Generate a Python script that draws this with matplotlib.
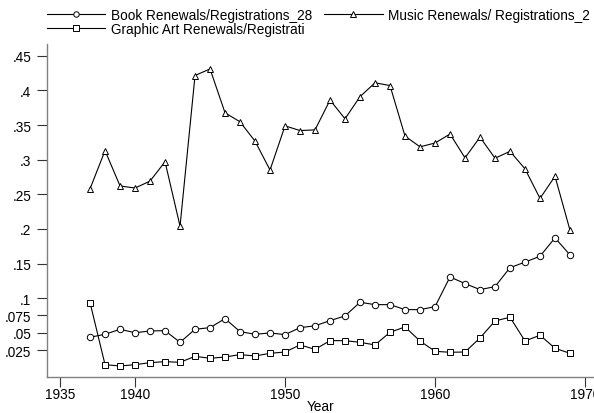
import numpy as np
import matplotlib.pyplot as plt
from matplotlib.ticker import FuncFormatter

plt.rcParams['font.family'] = ['Liberation Sans', 'DejaVu Sans']

years = list(range(1937, 1970))

book = [0.0435, 0.0478, 0.055, 0.050, 0.0526, 0.053, 0.0362, 0.055, 0.0574, 0.0704,
        0.0516, 0.0478, 0.0497, 0.0473, 0.0574, 0.060, 0.0675, 0.0743, 0.094, 0.0906,
        0.0906, 0.0834, 0.0834, 0.0877, 0.1306, 0.121, 0.1123, 0.1166, 0.144, 0.152,
        0.1605, 0.187, 0.1624]

music = [0.258, 0.313, 0.262, 0.259, 0.269, 0.297, 0.204, 0.4215, 0.431, 0.3676,
         0.3546, 0.3267, 0.285, 0.3488, 0.342, 0.343, 0.386, 0.359, 0.391, 0.411,
         0.407, 0.334, 0.3185, 0.324, 0.337, 0.3026, 0.3325, 0.302, 0.312, 0.2867,
         0.244, 0.276, 0.198]

graphic = [0.0935, 0.0039, 0.002, 0.0039, 0.0068, 0.0083, 0.0073, 0.016, 0.0131, 0.015,
           0.0184, 0.0165, 0.0203, 0.0222, 0.0324, 0.026, 0.0386, 0.0386, 0.0362, 0.0324,
           0.0507, 0.0584, 0.0381, 0.0232, 0.0218, 0.0222, 0.0425, 0.067, 0.0724, 0.0381,
           0.0464, 0.0276, 0.0203]

labels = ['Book Renewals/Registrations_28',
          'Graphic Art Renewals/Registrati',
          'Music Renewals/ Registrations_2']

yticks = [0.025, 0.05, 0.075, 0.1, 0.15, 0.2, 0.25, 0.3, 0.35, 0.4, 0.45]
xticks = [1935, 1940, 1950, 1960, 1970]

fs = 9.8
fig = plt.figure(figsize=(5.94, 4.14), dpi=100)
ax = fig.add_axes([46.7 / 594, 36 / 414, 1 - 46.7 / 594, 333 / 414])

style = dict(color='black', lw=0.8, markerfacecolor='white', markeredgecolor='black',
             markeredgewidth=0.7, markersize=4.6)
h1, = ax.plot(years, book, marker='o', label=labels[0], **style)
h3, = ax.plot(years, music, marker='^', label=labels[2], **style)
h2, = ax.plot(years, graphic, marker='s', label=labels[1], **style)

ax.set_xlim(1934.11, 1970.6)
ax.set_ylim(-0.0139, 0.467)
ax.set_xticks(xticks)
ax.set_yticks(yticks)
ax.yaxis.set_major_formatter(FuncFormatter(lambda v, p: ('%g' % v).lstrip('0')))

for s in ['top', 'right']:
    ax.spines[s].set_visible(False)
for s in ['left', 'bottom']:
    ax.spines[s].set_color('#808080')
    ax.spines[s].set_linewidth(1.0)
ax.tick_params(length=7, width=0.8, color='#333333', labelsize=fs)
ax.tick_params(axis='x', pad=0.5)
ax.tick_params(axis='y', pad=4)
ax.set_xlabel('Year', fontsize=fs, labelpad=-1.5)

fig.legend(handles=[h1, h2, h3], loc='upper left', bbox_to_anchor=(46.7 / 594, 0.978),
           ncol=2, frameon=False, fontsize=fs, handlelength=4.3, handletextpad=0.4,
           columnspacing=0.9, labelspacing=0.0, borderpad=0, borderaxespad=0,
           markerscale=0.85)

fig.savefig('out.png', dpi=100)
